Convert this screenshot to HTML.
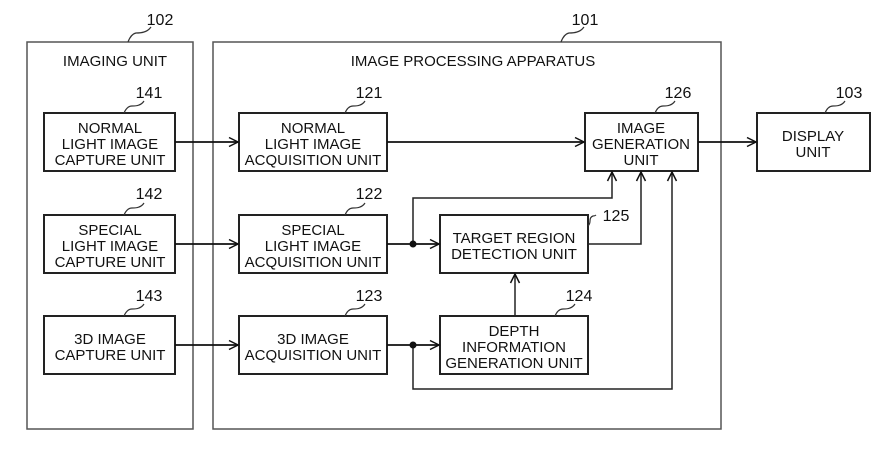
<!DOCTYPE html>
<html><head><meta charset="utf-8"><style>
html,body{margin:0;padding:0;background:#fff;}
svg{display:block;}
text{font-family:"Liberation Sans",sans-serif;font-size:15px;fill:#111;text-anchor:middle;}
.n{font-size:16px;}
</style></head><body>
<svg width="887" height="452" viewBox="0 0 887 452" xmlns="http://www.w3.org/2000/svg">
<defs>
<marker id="a" markerWidth="12" markerHeight="12" refX="10" refY="6" orient="auto" markerUnits="userSpaceOnUse">
<path d="M1,1.5 L10,6 L1,10.5" fill="none" stroke="#111" stroke-width="1.5"/>
</marker>
</defs>
<g fill="none" stroke="#555" stroke-width="1.5">
<rect x="27" y="42" width="166" height="387"/>
<rect x="213" y="42" width="508" height="387"/>
</g>
<g fill="#fff" stroke="#222" stroke-width="2">
<rect x="44" y="113" width="131" height="58"/>
<rect x="44" y="215" width="131" height="58"/>
<rect x="44" y="316" width="131" height="58"/>
<rect x="239" y="113" width="148" height="58"/>
<rect x="239" y="215" width="148" height="58"/>
<rect x="239" y="316" width="148" height="58"/>
<rect x="585" y="113" width="113" height="58"/>
<rect x="757" y="113" width="113" height="58"/>
<rect x="440" y="215" width="148" height="58"/>
<rect x="440" y="316" width="148" height="58"/>
</g>
<g fill="none" stroke="#111" stroke-width="1.8">
<line x1="175" y1="142" x2="238" y2="142" marker-end="url(#a)"/>
<line x1="175" y1="244" x2="238" y2="244" marker-end="url(#a)"/>
<line x1="175" y1="345" x2="238" y2="345" marker-end="url(#a)"/>
<line x1="387" y1="142" x2="584" y2="142" marker-end="url(#a)"/>
<line x1="698" y1="142" x2="756" y2="142" marker-end="url(#a)"/>
<line x1="387" y1="244" x2="439" y2="244" marker-end="url(#a)"/>
<line x1="387" y1="345" x2="439" y2="345" marker-end="url(#a)"/>
</g>
<g fill="none" stroke="#222" stroke-width="1.5">
<polyline points="413,244 413,198 612,198 612,172" marker-end="url(#a)"/>
<polyline points="588,244 641,244 641,172" marker-end="url(#a)"/>
<polyline points="413,345 413,389 672,389 672,172" marker-end="url(#a)"/>
<line x1="515" y1="316" x2="515" y2="274" marker-end="url(#a)"/>
</g>
<circle cx="413" cy="244" r="3.5" fill="#111"/>
<circle cx="413" cy="345" r="3.5" fill="#111"/>
<g fill="none" stroke="#333" stroke-width="1.2">
<path d="M128,42 q3,-8 8,-9 q5,0 8,-1 q4,-1 7,-5"/>
<path d="M561,42 q3,-8 8,-9 q5,0 8,-1 q4,-1 7,-5"/>
<path d="M124,113 q3,-7 8,-7 q5,0 7,-1 q3,-1 5,-4"/>
<path d="M124,215 q3,-7 8,-7 q5,0 7,-1 q3,-1 5,-4"/>
<path d="M124,316 q3,-7 8,-7 q5,0 7,-1 q3,-1 5,-4"/>
<path d="M345,113 q3,-7 8,-7 q5,0 7,-1 q3,-1 5,-4"/>
<path d="M345,215 q3,-7 8,-7 q5,0 7,-1 q3,-1 5,-4"/>
<path d="M345,316 q3,-7 8,-7 q5,0 7,-1 q3,-1 5,-4"/>
<path d="M655,113 q3,-7 8,-7 q5,0 7,-1 q3,-1 5,-4"/>
<path d="M825,113 q3,-7 8,-7 q5,0 7,-1 q3,-1 5,-4"/>
<path d="M555,316 q3,-7 8,-7 q5,0 7,-1 q3,-1 5,-4"/>
<path d="M588,226 q2,-2 2,-5 q0,-4 3,-5 q2,0 3,-1"/>
</g>
<g class="n">
<text class="n" x="160" y="25">102</text>
<text class="n" x="585" y="25">101</text>
<text class="n" x="149" y="98">141</text>
<text class="n" x="149" y="199">142</text>
<text class="n" x="149" y="301">143</text>
<text class="n" x="369" y="98">121</text>
<text class="n" x="369" y="199">122</text>
<text class="n" x="369" y="301">123</text>
<text class="n" x="678" y="98">126</text>
<text class="n" x="849" y="98">103</text>
<text class="n" x="616" y="221">125</text>
<text class="n" x="579" y="301">124</text>
</g>
<text x="115" y="66">IMAGING UNIT</text>
<text x="473" y="66">IMAGE PROCESSING APPARATUS</text>
<text x="110" y="133">NORMAL</text><text x="110" y="149">LIGHT IMAGE</text><text x="110" y="165">CAPTURE UNIT</text>
<text x="110" y="235">SPECIAL</text><text x="110" y="251">LIGHT IMAGE</text><text x="110" y="267">CAPTURE UNIT</text>
<text x="110" y="344">3D IMAGE</text><text x="110" y="360">CAPTURE UNIT</text>
<text x="313" y="133">NORMAL</text><text x="313" y="149">LIGHT IMAGE</text><text x="313" y="165">ACQUISITION UNIT</text>
<text x="313" y="235">SPECIAL</text><text x="313" y="251">LIGHT IMAGE</text><text x="313" y="267">ACQUISITION UNIT</text>
<text x="313" y="344">3D IMAGE</text><text x="313" y="360">ACQUISITION UNIT</text>
<text x="641" y="133">IMAGE</text><text x="641" y="149">GENERATION</text><text x="641" y="165">UNIT</text>
<text x="813" y="141">DISPLAY</text><text x="813" y="157">UNIT</text>
<text x="514" y="243">TARGET REGION</text><text x="514" y="259">DETECTION UNIT</text>
<text x="514" y="336">DEPTH</text><text x="514" y="352">INFORMATION</text><text x="514" y="368">GENERATION UNIT</text>
</svg>
</body></html>
